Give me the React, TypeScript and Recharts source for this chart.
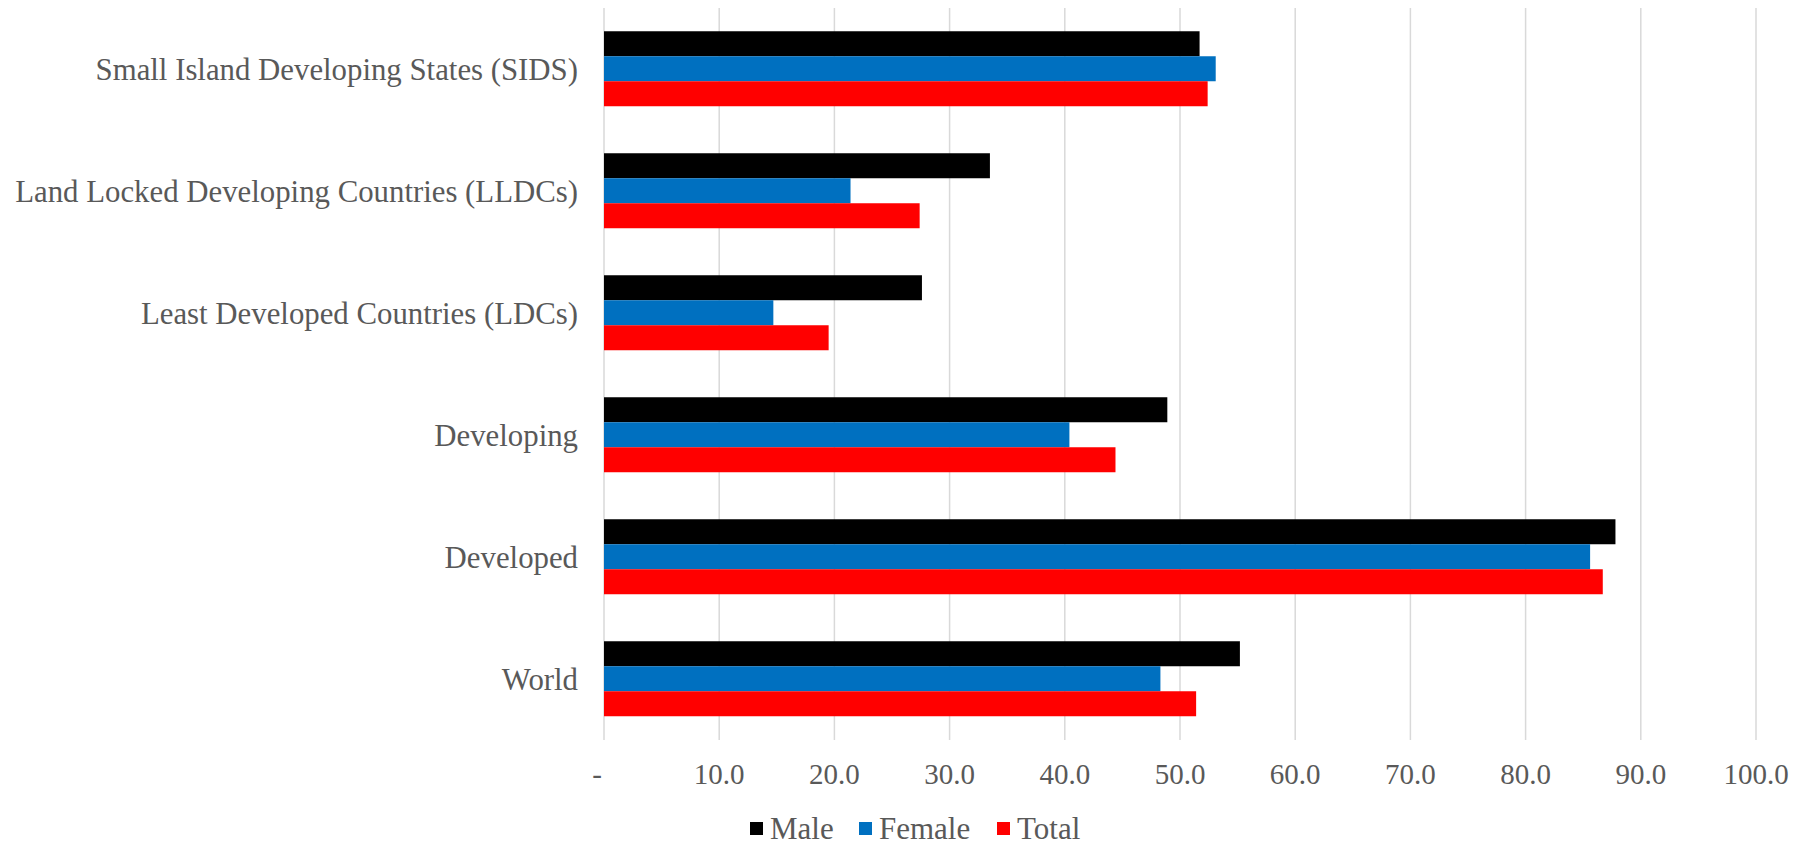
import React from 'react';
import { BarChart, Bar, XAxis, YAxis, CartesianGrid, Legend } from 'recharts';

const categories = [
  'Small Island Developing States (SIDS)',
  'Land Locked Developing Countries (LLDCs)',
  'Least Developed Countries (LDCs)',
  'Developing',
  'Developed',
  'World',
];
const maleValues = [51.7, 33.5, 27.6, 48.9, 87.8, 55.2];
const femaleValues = [53.1, 21.4, 14.7, 40.4, 85.6, 48.3];
const totalValues = [52.4, 27.4, 19.5, 44.4, 86.7, 51.4];
const xTicks = [0, 10, 20, 30, 40, 50, 60, 70, 80, 90, 100];

const series = [
  { key: 'Male', color: '#000000', left: 750 },
  { key: 'Female', color: '#0070C0', left: 859 },
  { key: 'Total', color: '#FF0000', left: 997 },
];

const data = categories.map((name, i) => ({
  name,
  Male: maleValues[i],
  Female: femaleValues[i],
  Total: totalValues[i],
}));

const FONT = '"Liberation Serif", "Times New Roman", serif';
const TEXT = '#595959';

const XTick = (props: any) => {
  const { x, y, payload } = props;
  const v = payload.value;
  const label = v === 0 ? '-' : v.toFixed(1);
  return (
    <text
      x={v === 0 ? x - 7 : x}
      y={y}
      dy="0.71em"
      textAnchor="middle"
      fill={TEXT}
      fontSize={29}
      fontFamily={FONT}
    >
      {label}
    </text>
  );
};

const LegendContent = () => (
  <div
    style={{
      position: 'relative',
      height: 47,
      fontFamily: FONT,
      fontSize: 31,
      color: TEXT,
      lineHeight: '31px',
    }}
  >
    {series.map((s) => (
      <div
        key={s.key}
        style={{ position: 'absolute', left: s.left, top: 13, display: 'flex', alignItems: 'center', whiteSpace: 'nowrap' }}
      >
        <span style={{ display: 'inline-block', width: 13, height: 13, background: s.color, marginRight: 7 }} />
        <span>{s.key}</span>
      </div>
    ))}
  </div>
);

export default function App() {
  return (
    <div style={{ position: 'absolute', left: 0, top: 0, background: '#fff' }}>
      <BarChart
        width={1814}
        height={847}
        data={data}
        layout="vertical"
        margin={{ top: 8, right: 58, bottom: 0, left: 0 }}
        barCategoryGap="19%"
        barGap={0}
      >
        <CartesianGrid horizontal={false} stroke="#d9d9d9" strokeWidth={1.5} />
        <XAxis
          type="number"
          domain={[0, 100]}
          ticks={xTicks}
          axisLine={false}
          tickLine={false}
          tickSize={0}
          tickMargin={23}
          height={60}
          tick={<XTick />}
          interval={0}
        />
        <YAxis
          type="category"
          dataKey="name"
          width={604}
          axisLine={false}
          tickLine={false}
          tickSize={0}
          tickMargin={26}
          interval={0}
          tick={{ fill: TEXT, fontSize: 30.8, fontFamily: FONT }}
        />
        <Legend
          verticalAlign="bottom"
          height={47}
          content={<LegendContent />}
          wrapperStyle={{ left: 0, width: 1814, height: 47 }}
        />
        {series.map((s) => (
          <Bar key={s.key} dataKey={s.key} fill={s.color} isAnimationActive={false} />
        ))}
      </BarChart>
    </div>
  );
}
